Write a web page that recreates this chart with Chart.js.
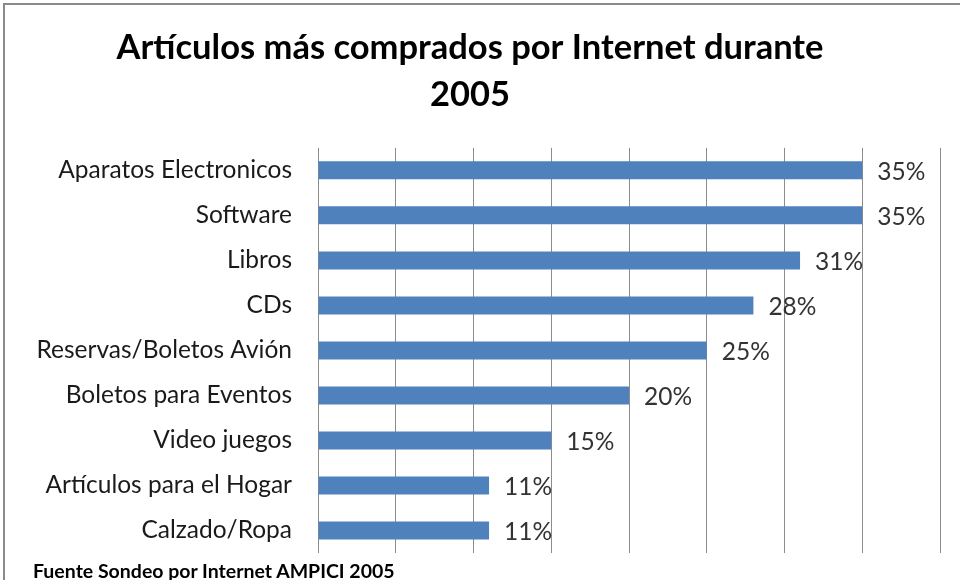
<!DOCTYPE html>
<html>
<head>
<meta charset="utf-8">
<script src="https://cdn.jsdelivr.net/npm/chart.js@4"></script>
<style>
  html, body { margin: 0; padding: 0; background: #fff; }
  #wrap { position: relative; width: 960px; height: 580px; overflow: hidden; }
  #frame { position: absolute; left: 3px; top: 3px; width: 980px; height: 600px;
           border-left: 2px solid #8a8a8a; border-top: 2px solid #8a8a8a; }
  canvas { position: absolute; left: 0; top: 0; }
  #note { position: absolute; left: 33px; top: 561px; font: bold 19.5px Lato, 'Open Sans', sans-serif;
          color: #000; white-space: nowrap; line-height: 20px; }
</style>
</head>
<body>
<div id="wrap">
  <div id="frame"></div>
  <canvas id="c" width="960" height="580"></canvas>
  <div id="note"></div>
</div>
<script>
const titleLines = ["Artículos más comprados por Internet durante", "2005"];
const sourceNote = "Fuente Sondeo por Internet AMPICI 2005";
const categories = ["Aparatos Electronicos", "Software", "Libros", "CDs",
  "Reservas/Boletos Avión", "Boletos para Eventos", "Video juegos",
  "Artículos para el Hogar", "Calzado/Ropa"];
const values = [35, 35, 31, 28, 25, 20, 15, 11, 11];
const axisMin = 0, axisMax = 40, axisStep = 5;

const FONT = "Lato, 'Open Sans', sans-serif";
document.getElementById('note').textContent = sourceNote;

const valueLabels = {
  id: 'valueLabels',
  afterDatasetsDraw(chart) {
    const ctx = chart.ctx;
    const meta = chart.getDatasetMeta(0);
    ctx.save();
    ctx.font = "24.5px " + FONT;
    ctx.fillStyle = "#333333";
    ctx.textAlign = "left";
    ctx.textBaseline = "middle";
    meta.data.forEach((bar, i) => {
      ctx.fillText(values[i] + "%", bar.x + 15, bar.y + 2);
    });
    ctx.restore();
  }
};

new Chart(document.getElementById('c'), {
  type: 'bar',
  data: {
    labels: categories,
    datasets: [{
      data: values,
      backgroundColor: '#4F81BD',
      borderWidth: 0,
      barPercentage: 0.8,
      categoryPercentage: 0.5
    }]
  },
  options: {
    indexAxis: 'y',
    responsive: false,
    animation: false,
    devicePixelRatio: 1,
    layout: { padding: { left: 0, right: 20, top: 0, bottom: 27 } },
    plugins: {
      legend: { display: false },
      tooltip: { enabled: false },
      title: {
        display: true,
        text: titleLines,
        color: '#000000',
        font: { family: FONT, size: 34.5, weight: 'bold', lineHeight: 1.36 },
        padding: { top: 24, bottom: 30 }
      }
    },
    scales: {
      x: {
        min: axisMin, max: axisMax,
        ticks: { display: false, stepSize: axisStep, padding: 0 },
        grid: { color: '#8c8c8c', lineWidth: 1, drawTicks: false },
        border: { display: false },
        afterFit(scale) { scale.height = 0; }
      },
      y: {
        ticks: { color: '#1a1a1a', font: { family: FONT, size: 24.5 }, padding: 26 },
        grid: { display: false, drawTicks: false },
        border: { display: false },
        afterFit(scale) { scale.width = 318; scale.paddingTop = 0; scale.paddingBottom = 0; }
      }
    }
  },
  plugins: [valueLabels]
});
</script>
</body>
</html>
